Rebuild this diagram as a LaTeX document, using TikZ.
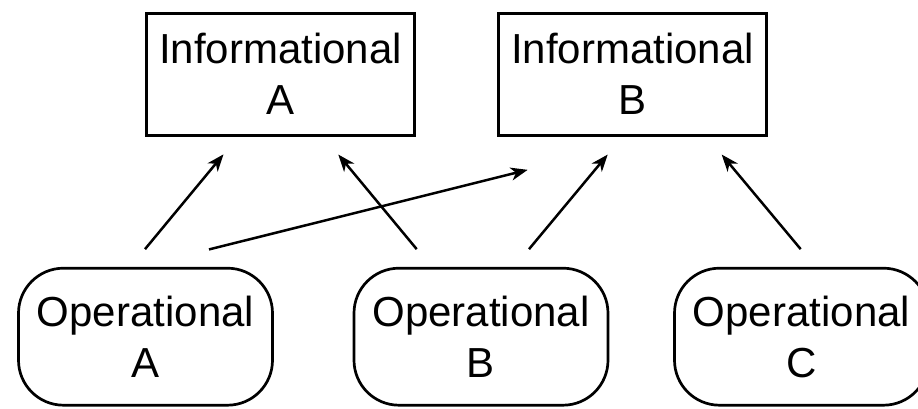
\documentclass[tikz,border=0pt]{standalone}
\usepackage{fontspec}
\setmainfont{Liberation Sans}
\usetikzlibrary{arrows.meta}
\begin{document}
\begin{tikzpicture}[x=1pt,y=1pt,
  box/.style={draw, line width=2.7pt, inner sep=0pt, align=center,
    font=\fontsize{42}{51}\selectfont},
  infobox/.style={box, minimum width=268pt, minimum height=122pt},
  opbox/.style={box, rounded corners=45pt, minimum width=254pt, minimum height=137pt},
  arr/.style={line width=2.5pt, -{Stealth[length=17pt, width=13pt, inset=5pt]}}]
\clip (0,0) rectangle (918,408);
\useasboundingbox (0,0) rectangle (918,408);

% informational stores
\node[infobox] (infA) at (280.4,333.8) {Informational\\A};
\node[infobox] (infB) at (632.5,333.8) {Informational\\B};

% operational stores
\node[opbox] (opA) at (145.5,71.3) {Operational\\A};
\node[opbox] (opB) at (481,71.3) {Operational\\B};
\node[opbox] (opC) at (801.5,71.3) {Operational\\C};

% feeds
\draw[arr] ([shift={(-0.5,17.7)}]opA.north) -- ([shift={(-56.9,-17.8)}]infA.south);
\draw[arr] ([shift={(63.5,17.4)}]opA.north) -- ([shift={(-104.8,-33.3)}]infB.south);
\draw[arr] ([shift={(-64.3,17.7)}]opB.north) -- ([shift={(57.9,-18)}]infA.south);
\draw[arr] ([shift={(48,17.7)}]opB.north) -- ([shift={(-24.8,-18)}]infB.south);
\draw[arr] ([shift={(-0.8,17.7)}]opC.north) -- ([shift={(89.2,-18)}]infB.south);
\end{tikzpicture}
\end{document}
